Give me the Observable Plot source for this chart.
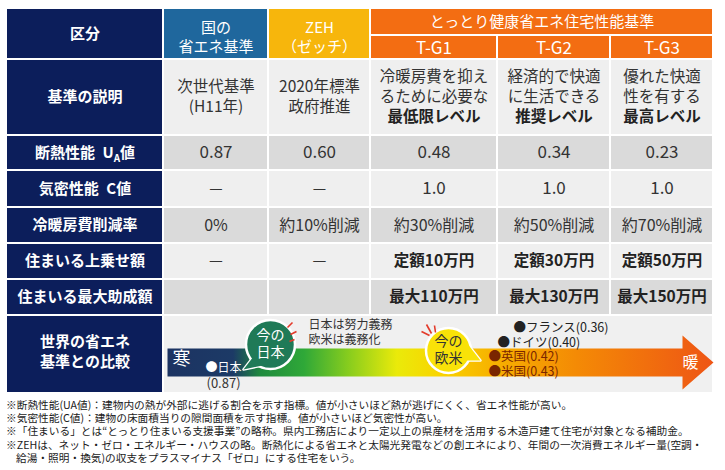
<!DOCTYPE html>
<html><head><meta charset="utf-8">
<script src="https://cdn.jsdelivr.net/npm/d3@7"></script>
<script src="https://cdn.jsdelivr.net/npm/@observablehq/plot@0.6"></script>
<style>
body{margin:0;background:#fff;font-family:'Noto Sans CJK JP',sans-serif;}
#notes{padding:2px 0 0 6px;font-size:10.7px;line-height:13.2px;color:#1a1a1a;white-space:nowrap;}
#notes div.cont{padding-left:10px;}
</style></head><body><div id="chart"></div><div id="notes"></div>
<script>
// ---- data ----
const rowHeaders = ["区分","基準の説明","断熱性能\u2002UA値","気密性能\u2002C値","冷暖房費削減率","住まいる上乗せ額","住まいる最大助成額","世界の省エネ\n基準との比較"];
const standards = ["国の\n省エネ基準","ZEH\n（ゼッチ）","T-G1","T-G2","T-G3"];
const tottoriTitle = "とっとり健康省エネ住宅性能基準";
const descLines = [["次世代基準","(H11年)"],["2020年標準","政府推進"],["冷暖房費を抑え","るために必要な"],["経済的で快適","に生活できる"],["優れた快適","性を有する"]];
const descBold = [null,null,"最低限レベル","推奨レベル","最高レベル"];
const uaValue = [0.87,0.60,0.48,0.34,0.23];
const cValue = [null,null,1.0,1.0,1.0];
const costCutPct = [0,10,30,50,70];
const bonusManYen = [null,null,10,30,50];
const maxGrantManYen = [null,null,110,130,150];
const countries = ["日本","フランス","ドイツ","英国","米国"];
const countryUA = [0.87,0.36,0.40,0.42,0.43];
const bubbleLabels = ["今の\n日本","今の\n欧米"];
const obligationNote = "日本は努力義務\n欧米は義務化";
const scaleEnds = ["寒","暖"];
const notes = [
 "※断熱性能(UA値)：建物内の熱が外部に逃げる割合を示す指標。値が小さいほど熱が逃げにくく、省エネ性能が高い。",
 "※気密性能(C値)：建物の床面積当りの隙間面積を示す指標。値が小さいほど気密性が高い。",
 "※「住まいる」とは“とっとり住まいる支援事業”の略称。県内工務店により一定以上の県産材を活用する木造戸建て住宅が対象となる補助金。",
 "※ZEHは、ネット・ゼロ・エネルギー・ハウスの略。断熱化による省エネと太陽光発電などの創エネにより、年間の一次消費エネルギー量(空調・",
 "給湯・照明・換気)の収支をプラスマイナス「ゼロ」にする住宅をいう。"
];

// ---- layout ----
const W = 725, H = 396;
const FONT = "'Noto Sans CJK JP','Noto Sans',sans-serif";
const colEdges = [6,163,268,370,497,610,713];
const rowEdges = [8,59,135,170,207,243,279,315,393];
const headerSplit = 35;
const navy = "#0c1e5b", lightCell = "#efefef", darkCell = "#dadada", ink = "#333";
const headerFills = ["#1f679d","#f7b60c","#f36d12","#f36d12","#f36d12"];
const cx = i => (colEdges[i] + colEdges[i+1]) / 2;
const cy = r => (rowEdges[r] + rowEdges[r+1]) / 2;

const cells = [];
rowHeaders.forEach((h, r) => cells.push({x1: colEdges[0], x2: colEdges[1], y1: rowEdges[r], y2: rowEdges[r+1], fill: navy}));
standards.forEach((s, i) => cells.push({x1: colEdges[i+1], x2: colEdges[i+2], y1: i < 2 ? rowEdges[0] : headerSplit, y2: rowEdges[1], fill: headerFills[i]}));
cells.push({x1: colEdges[3], x2: colEdges[6], y1: rowEdges[0], y2: headerSplit, fill: headerFills[2]});
for (let r = 1; r <= 6; r++) for (let i = 1; i <= 5; i++)
  cells.push({x1: colEdges[i], x2: colEdges[i+1], y1: rowEdges[r], y2: rowEdges[r+1], fill: r % 2 ? lightCell : darkCell});
cells.push({x1: colEdges[1], x2: colEdges[6], y1: rowEdges[7], y2: rowEdges[8], fill: "#f0f0f0"});

const centered = [], centeredBold = [], startTexts = [];
function addLines(arr, str, x, y, gap, fill, size) {
  const lines = str.split("\n");
  lines.forEach((t, k) => arr.push({x, y: y + (k - (lines.length - 1) / 2) * gap, text: t, fill, size}));
}
// row headers
rowHeaders.forEach((h, r) => addLines(centeredBold, h, cx(0), r === 7 ? cy(r) - 2 : cy(r), 20, "white", 15));
// column headers
standards.forEach((s, i) => {
  if (i < 2) addLines(centered, s, cx(i+1), 37, 19, "white", 15);
  else addLines(centered, s, cx(i+1), (headerSplit + rowEdges[1]) / 2 + 1, 19, "white", 17);
});
addLines(centered, tottoriTitle, (colEdges[3] + colEdges[6]) / 2, (rowEdges[0] + headerSplit) / 2 + 0.5, 19, "white", 15);
// description
descLines.forEach((lines, i) => {
  const n = lines.length + (descBold[i] ? 1 : 0);
  lines.forEach((t, k) => centered.push({x: cx(i+1), y: cy(1) + (k - (n-1)/2) * 20, text: t, fill: ink, size: 15.5}));
  if (descBold[i]) centeredBold.push({x: cx(i+1), y: cy(1) + (n-1 - (n-1)/2) * 20, text: descBold[i], fill: "#222", size: 15.5});
});
// values
uaValue.forEach((v, i) => centered.push({x: cx(i+1), y: cy(2), text: v.toFixed(2), fill: ink, size: 17}));
cValue.forEach((v, i) => centered.push({x: cx(i+1), y: cy(3), text: v == null ? "—" : v.toFixed(1), fill: ink, size: v == null ? 15 : 17}));
costCutPct.forEach((v, i) => centered.push({x: cx(i+1), y: cy(4), text: v === 0 ? "0%" : `約${v}%削減`, fill: ink, size: 16}));
bonusManYen.forEach((v, i) => (v == null ? centered : centeredBold).push({x: cx(i+1), y: cy(5), text: v == null ? "—" : `定額${v}万円`, fill: v == null ? ink : "#222", size: 15.5}));
maxGrantManYen.forEach((v, i) => { if (v != null) centeredBold.push({x: cx(i+1), y: cy(6), text: `最大${v}万円`, fill: "#222", size: 15.5}); });

// world comparison annotations
const countryPos = [[205,368],[513,327],[497,342],[488,356],[488,371]];
const countryFill = ["white", "#222", "#222", "#7a2600", "#7a2600"];
countries.forEach((c, k) => {
  if (k === 0) {
    startTexts.push({x: countryPos[k][0], y: countryPos[k][1], text: "●" + c, fill: "white", size: 12});
    startTexts.push({x: countryPos[k][0] + 1, y: countryPos[k][1] + 15, text: `(${countryUA[k].toFixed(2)})`, fill: ink, size: 13});
  } else {
    startTexts.push({x: countryPos[k][0], y: countryPos[k][1], text: `●${c}(${countryUA[k].toFixed(2)})`, fill: countryFill[k], size: 12.5});
  }
});
addLines(startTexts, obligationNote, 308, 332.5, 15, ink, 12);
centered.push({x: 181, y: 359, text: scaleEnds[0], fill: "white", size: 18});
centered.push({x: 690, y: 362, text: scaleEnds[1], fill: "white", size: 16});

const bubbles = [{x: 270, y: 344, r: 24.5, fill: "#1f7a57", textFill: "white"}, {x: 448, y: 350, r: 22.5, fill: "#f9e208", textFill: "#333"}];
bubbles.forEach((b, k) => addLines(centered, bubbleLabels[k], b.x, b.y, 17, b.textFill, 14));
const tails = [
  [{x: 253, y: 356}, {x: 243, y: 369}, {x: 262, y: 365}],
  [{x: 466, y: 342}, {x: 480, y: 360}, {x: 463, y: 360}]
];
const arrowPts = [{x:167,y:348},{x:682,y:348},{x:682,y:335},{x:713,y:362},{x:682,y:389},{x:682,y:376},{x:167,y:376}];
const rays = [
  {x1:287,y1:327,x2:292,y2:322},{x1:290,y1:334,x2:296,y2:331},{x1:289,y1:341,x2:294,y2:339},
  {x1:421,y1:331,x2:429,y2:335},{x1:426,y1:324,x2:431,y2:333},{x1:434,y1:325,x2:435,y2:332}
];

const textOpts = (anchor) => ({x: "x", y: "y", text: "text", fill: "fill", fontSize: d => d.size, textAnchor: anchor, lineAnchor: "middle"});
const chart = Plot.plot({
  width: W, height: H, margin: 0,
  x: {type: "linear", domain: [0, W], range: [0, W], axis: null},
  y: {type: "linear", domain: [0, H], range: [0, H], axis: null},
  color: {type: "identity"},
  r: {type: "identity"},
  style: {fontFamily: FONT, background: "white"},
  marks: [
    Plot.rect(cells, {x1: "x1", x2: "x2", y1: "y1", y2: "y2", fill: "fill", inset: 1}),
    Plot.line(arrowPts, {x: "x", y: "y", fill: "url(#warmGrad)", stroke: "none"}),
    ...tails.map((t, k) => Plot.line(t, {x: "x", y: "y", fill: bubbles[k].fill, stroke: "white", strokeWidth: 2.5})),
    Plot.dot(bubbles, {x: "x", y: "y", r: "r", fill: "fill", stroke: "white", strokeWidth: 2.5}),
    ...tails.map((t, k) => Plot.line(t, {x: "x", y: "y", fill: bubbles[k].fill, stroke: "none"})),
    Plot.link(rays, {x1: "x1", y1: "y1", x2: "x2", y2: "y2", stroke: "#e33a2a", strokeWidth: 1.6}),
    Plot.text(centered, textOpts("middle")),
    Plot.text(centeredBold, {...textOpts("middle"), fontWeight: "bold"}),
    Plot.text(startTexts, textOpts("start"))
  ]
});
document.getElementById("chart").appendChild(chart);

// gradient for the warm/cold arrow
const svgSel = d3.select(chart.tagName.toLowerCase() === "svg" ? chart : chart.querySelector("svg"));
const grad = svgSel.insert("defs", ":first-child").append("linearGradient")
  .attr("id", "warmGrad").attr("x1", 0).attr("x2", 1).attr("y1", 0).attr("y2", 0);
[[0,"#1c3362"],[0.12,"#1c3a66"],[0.17,"#1f8a3e"],[0.25,"#2fa838"],[0.33,"#86cc1e"],[0.42,"#eaea0a"],[0.5,"#f9d400"],[0.6,"#f7b000"],[0.75,"#f48a05"],[1,"#ee5515"]]
  .forEach(([o, c]) => grad.append("stop").attr("offset", o).attr("stop-color", c));

// subscript A in U_A
svgSel.selectAll("text").each(function() {
  if (this.textContent === rowHeaders[2]) {
    const t = d3.select(this); t.text(null);
    t.append("tspan").text("断熱性能\u2002U");
    t.append("tspan").attr("font-size", 10).attr("dy", 4).text("A");
    t.append("tspan").attr("dy", -4).text("値");
  }
});

// footnotes
d3.select("#notes").selectAll("div").data(notes).join("div")
  .attr("class", (d, i) => i === notes.length - 1 ? "cont" : null).text(d => d);
</script></body></html>
